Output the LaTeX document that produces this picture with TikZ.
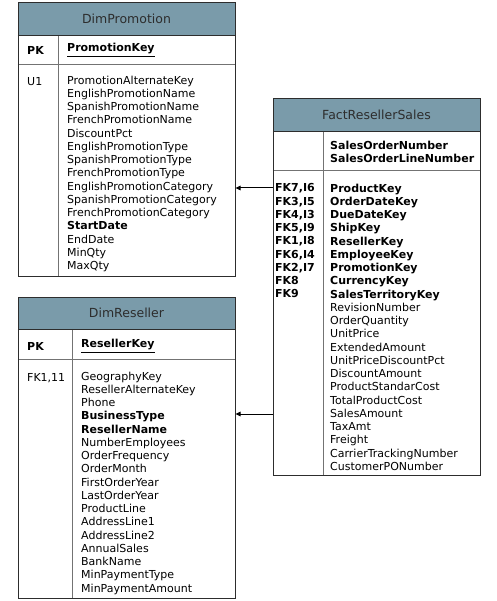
\documentclass[tikz,border=0pt]{standalone}
\usepackage{fontspec}
\setmainfont{DejaVu Sans}
\usetikzlibrary{arrows.meta}
\definecolor{hdrfill}{RGB}{122,155,170}
\definecolor{edgec}{RGB}{45,45,45}
\definecolor{divc}{RGB}{115,115,115}
\definecolor{hdrtxt}{RGB}{45,45,45}
\begin{document}
\begin{tikzpicture}[x=1pt,y=-1pt,
  hdr/.style={fill=hdrfill, inner sep=0pt, font=\fontsize{12.5}{15}\selectfont, text=hdrtxt},
  part/.style={inner sep=0pt},
  frame/.style={draw=edgec, line width=1pt, inner sep=0pt},
  sep/.style={draw=divc, line width=1pt},
  col/.style={anchor=north west, align=left, inner sep=0pt, font=\fontsize{11}{13.25}\selectfont,
    execute at begin node={\rule{0pt}{10pt}}},
  pk/.style={anchor=west, inner sep=0pt, font=\fontsize{11}{13.25}\selectfont\bfseries},
  link/.style={draw=black, line width=1pt, -{Triangle[length=5pt,width=4.5pt]}}]
\useasboundingbox (0,0) rectangle (496,601);
\fill[white] (0,0) rectangle (496,601);

% ---------------- DimPromotion ----------------
\node[hdr, minimum width=217pt, minimum height=32pt] (promoH) at (126.5,19) {DimPromotion};
\node[part, minimum width=217pt, minimum height=29pt] (promoK) at (126.5,49.5) {};
\node[part, minimum width=217pt, minimum height=212pt] (promoB) at (126.5,170) {};
\draw[sep] (promoK.north -| 58,0) -- (promoB.south -| 58,0);
\draw[sep] (promoK.south west) -- (promoK.south east);
\draw[draw=edgec, line width=1pt] (promoH.south west) -- (promoH.south east);
\node[frame, minimum width=217pt, minimum height=273pt] (promo) at (126.5,139.5) {};
\node[pk] (promoPK) at (27,50) {PK};
\node[pk] (promoKey) at (67,50) {\underline{PromotionKey}};
\node[col] (promoU) at (27,75.5) {U1};
\node[col] (promoF) at (67,75.5) {PromotionAlternateKey\\EnglishPromotionName\\SpanishPromotionName\\FrenchPromotionName\\DiscountPct\\EnglishPromotionType\\SpanishPromotionType\\FrenchPromotionType\\EnglishPromotionCategory\\SpanishPromotionCategory\\FrenchPromotionCategory\\\textbf{StartDate}\\EndDate\\MinQty\\MaxQty};

% ---------------- DimReseller ----------------
\node[hdr, minimum width=217pt, minimum height=32pt] (resH) at (126.5,313) {DimReseller};
\node[part, minimum width=217pt, minimum height=30pt] (resK) at (126.5,344) {};
\node[part, minimum width=217pt, minimum height=239pt] (resB) at (126.5,478.5) {};
\draw[sep] (resK.north -| 72,0) -- (resB.south -| 72,0);
\draw[sep] (resK.south west) -- (resK.south east);
\draw[draw=edgec, line width=1pt] (resH.south west) -- (resH.south east);
\node[frame, minimum width=217pt, minimum height=301pt] (res) at (126.5,447.5) {};
\node[pk] (resPK) at (27,346) {PK};
\node[pk] (resKey) at (81,346) {\underline{ResellerKey}};
\node[col] (resFK) at (27,371.5) {FK1,11};
\node[col] (resF) at (81,371.5) {GeographyKey\\ResellerAlternateKey\\Phone\\\textbf{BusinessType}\\\textbf{ResellerName}\\NumberEmployees\\OrderFrequency\\OrderMonth\\FirstOrderYear\\LastOrderYear\\ProductLine\\AddressLine1\\AddressLine2\\AnnualSales\\BankName\\MinPaymentType\\MinPaymentAmount};

% ---------------- FactResellerSales ----------------
\node[hdr, minimum width=207pt, minimum height=32pt] (factH) at (376.5,115) {FactResellerSales};
\node[part, minimum width=207pt, minimum height=39pt] (factK) at (376.5,150.5) {};
\node[part, minimum width=207pt, minimum height=305pt] (factB) at (376.5,322.5) {};
\draw[sep] (factK.north -| 323,0) -- (factB.south -| 323,0);
\draw[sep] (factK.south west) -- (factK.south east);
\draw[draw=edgec, line width=1pt] (factH.south west) -- (factH.south east);
\node[frame, minimum width=207pt, minimum height=376pt] (fact) at (376.5,287) {};
\node[col, font=\fontsize{11}{13.25}\selectfont\bfseries] (factPK) at (330,140.5) {SalesOrderNumber\\SalesOrderLineNumber};
\node[col, font=\fontsize{11}{13.25}\selectfont\bfseries] (factFK) at (275,183.5) {FK7,I6\\FK3,I5\\FK4,I3\\FK5,I9\\FK1,I8\\FK6,I4\\FK2,I7\\FK8\\FK9};
\node[col] (factF) at (330,183.5) {\textbf{ProductKey}\\\textbf{OrderDateKey}\\\textbf{DueDateKey}\\\textbf{ShipKey}\\\textbf{ResellerKey}\\\textbf{EmployeeKey}\\\textbf{PromotionKey}\\\textbf{CurrencyKey}\\\textbf{SalesTerritoryKey}\\RevisionNumber\\OrderQuantity\\UnitPrice\\ExtendedAmount\\UnitPriceDiscountPct\\DiscountAmount\\ProductStandarCost\\TotalProductCost\\SalesAmount\\TaxAmt\\Freight\\CarrierTrackingNumber\\CustomerPONumber};

% ---------------- connectors ----------------
\coordinate (row1) at (0,188);
\coordinate (row2) at (0,414);
\draw[link] (fact.west |- row1) -- (promo.east |- row1);
\draw[link] (fact.west |- row2) -- (res.east |- row2);
\end{tikzpicture}
\end{document}
